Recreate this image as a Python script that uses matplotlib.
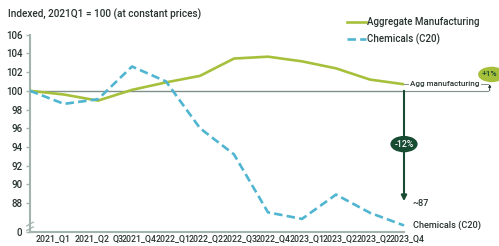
import matplotlib
matplotlib.use("Agg")
import matplotlib.pyplot as plt
from matplotlib.patches import Ellipse

plt.rcParams['font.family'] = ['Roboto', 'DejaVu Sans']
plt.rcParams['font.weight'] = 500

# ---- data ----
quarters = ['2021_Q1', '2021_Q2', 'Q3', '2021_Q4', '2022_Q1', '2022_Q2', '2022_Q3',
            '2022_Q4', '2023_Q1', '2023_Q2', '2023_Q2', '2023_Q4']
agg_manufacturing = [100.0, 99.6, 98.95, 100.1, 100.9, 101.6, 103.45, 103.65,
                     103.15, 102.4, 101.2, 100.7]
chemicals = [100.0, 98.6, 99.1, 102.6, 101.0, 96.0, 93.2, 87.0, 86.3, 88.9, 86.95, 85.6]
ytick_values = [84.9, 88, 90, 92, 94, 96, 98, 100, 102, 104, 106]
ytick_labels = ['0', '88', '90', '92', '94', '96', '98', '100', '102', '104', '106']

# ---- style ----
C_AGG = '#a6c03c'
C_CHEM = '#4fb5d0'
C_DARK = '#174c33'
C_TEXT = '#27332f'
C_SPINE = '#a2b4ad'
C_REF = '#7f918a'

W, H = 499, 246
fig = plt.figure(figsize=(W / 100, H / 100), dpi=100)
x0_px, y_bottom_px, y_top_px = 30, 232, 34.7
px_per_q = 34.0
ax = fig.add_axes([x0_px / W, (H - y_bottom_px) / H, (W - x0_px) / W,
                   (y_bottom_px - y_top_px) / H])
xmax = (W - x0_px) / px_per_q
ax.set_xlim(0, xmax)
ax.set_ylim(84.9, 106)

xs = list(range(len(agg_manufacturing)))
last = xs[-1]
x_end = (488 - x0_px) / px_per_q

# reference line at 100
ax.plot([0, last], [100, 100], color=C_REF, lw=1.0, zorder=2)
ax.plot([last, x_end], [100, 100], color=C_REF, lw=0.8, zorder=2)

ax.plot(xs, agg_manufacturing, color=C_AGG, lw=1.9, zorder=3, solid_capstyle='butt')
ax.plot(xs, chemicals, color=C_CHEM, lw=1.9, ls=(0, (3.2, 1.6)), zorder=3)

# spines
for s in ['top', 'right']:
    ax.spines[s].set_visible(False)
ax.spines['left'].set_color(C_SPINE)
ax.spines['left'].set_linewidth(1.5)
ax.spines['bottom'].set_color(C_SPINE)
ax.spines['bottom'].set_linewidth(1.5)
ax.spines['bottom'].set_bounds(0, last)

ax.set_yticks(ytick_values)
ax.set_yticklabels(ytick_labels)
ax.tick_params(axis='y', colors=C_SPINE, length=3, width=1, pad=2.5, labelsize=7.0,
               labelcolor=C_TEXT)

# x tick labels (left aligned, running together as in the reference)
char_w = 4.78
char_idx = [0, 8, 16, 18, 25, 32, 39, 46, 53, 60, 67, 74]
xpos = [(36 + c * char_w - x0_px) / px_per_q for c in char_idx]
ax.set_xticks(xpos)
ax.set_xticklabels(quarters, ha='left')
ax.tick_params(axis='x', length=0, pad=2.0, labelsize=6.3, labelcolor=C_TEXT)

# axis break mark
tr = ax.get_yaxis_transform()
for yv in (85.25, 85.75):
    ax.plot([-0.007, 0.007], [yv - 0.2, yv + 0.2], color=C_SPINE, lw=0.9,
            transform=tr, clip_on=False)

# title
fig.text(8 / W, 1 - 14 / H, 'Indexed, 2021Q1 = 100 (at constant prices)', fontsize=7.2,
         color=C_TEXT, va='center', ha='left')

# legend (manual)
lx0, lx1 = (347 - x0_px) / px_per_q, (366 - x0_px) / px_per_q
ax.plot([lx0, lx1], [107.35, 107.35], color=C_AGG, lw=1.9, clip_on=False)
ax.plot([lx0, lx1], [105.55, 105.55], color=C_CHEM, lw=1.9, ls=(0, (3.2, 1.6)), clip_on=False)
ax.text(lx1 + 0.03, 107.35, 'Aggregate Manufacturing', fontsize=7.0, color=C_TEXT,
        va='center', ha='left', clip_on=False)
ax.text(lx1 + 0.03, 105.55, 'Chemicals (C20)', fontsize=7.0, color=C_TEXT,
        va='center', ha='left', clip_on=False)

# Agg manufacturing end label line
ax.plot([last, x_end], [agg_manufacturing[-1]] * 2, color=C_REF, lw=0.7, zorder=2)
ax.text((445 - x0_px) / px_per_q, agg_manufacturing[-1] + 0.05, 'Agg manufacturing',
        fontsize=5.8, color=C_TEXT, ha='center', va='center', zorder=4,
        bbox=dict(boxstyle='square,pad=0.15', fc='white', ec='none'))
ax.annotate('', xy=(x_end + 0.05, agg_manufacturing[-1]), xytext=(x_end + 0.05, 100),
            arrowprops=dict(arrowstyle='-|>', color=C_TEXT, lw=0.6, mutation_scale=4,
                            shrinkA=0, shrinkB=0))
ax.add_patch(Ellipse((13.58, 101.75), 0.8, 1.65, fc=C_AGG, ec='none', clip_on=False, zorder=4))
ax.text(13.52, 101.75, '+1%', fontsize=6.0, color=C_DARK, ha='center', va='center',
        zorder=5, clip_on=False)

# -12% arrow
ax.annotate('', xy=(last, 88.2), xytext=(last, 100),
            arrowprops=dict(arrowstyle='-|>', color=C_DARK, lw=1.5, mutation_scale=8,
                            shrinkA=0, shrinkB=0))
ax.add_patch(Ellipse((last, 94.3), 0.8, 1.75, fc=C_DARK, ec='none', zorder=5))
ax.text(last, 94.3, '-12%', fontsize=6.3, color='white', ha='center', va='center', zorder=6)
ax.text(last + 0.26, 88.0, '~87', fontsize=6.6, color=C_TEXT, ha='left', va='center')
ax.text(last + 0.26, chemicals[-1], 'Chemicals (C20)', fontsize=6.6, color=C_TEXT,
        ha='left', va='center')

fig.savefig('out.png', dpi=100)
